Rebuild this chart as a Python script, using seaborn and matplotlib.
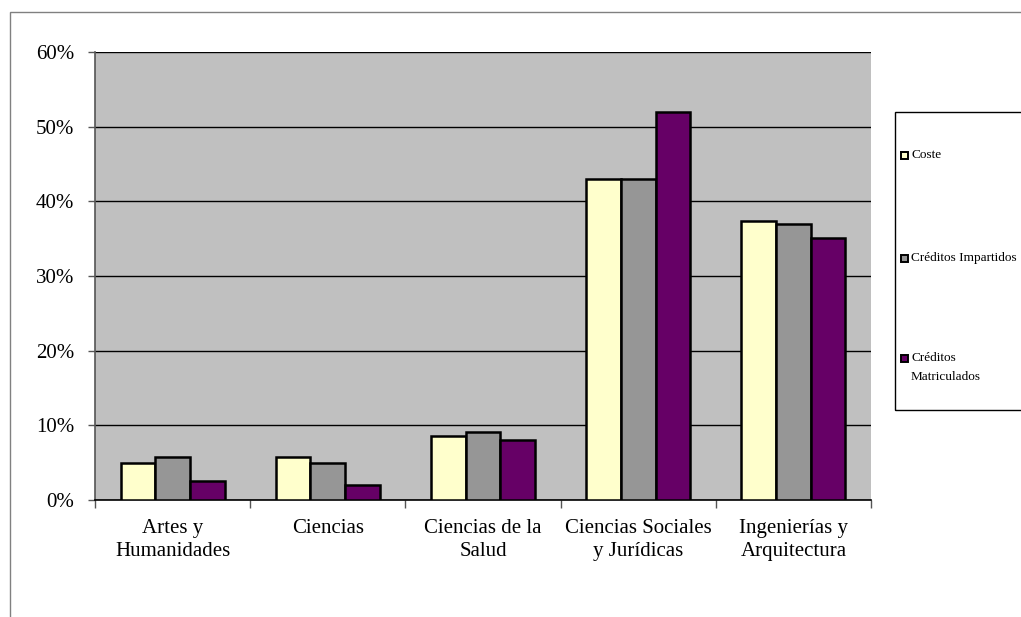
import matplotlib
matplotlib.use("Agg")
import matplotlib.pyplot as plt
from matplotlib.patches import Rectangle
from matplotlib.ticker import FuncFormatter, FixedLocator
import pandas as pd
import seaborn as sns

categories = ["Artes y\nHumanidades", "Ciencias", "Ciencias de la\nSalud",
              "Ciencias Sociales\ny Jurídicas", "Ingenierías y\nArquitectura"]
series = ["Coste", "Créditos Impartidos", "Créditos\nMatriculados"]
coste = [5.0, 5.7, 8.6, 43.0, 37.3]
creditos_impartidos = [5.7, 4.9, 9.1, 43.0, 36.9]
creditos_matriculados = [2.5, 2.0, 8.1, 52.0, 35.1]
y_ticks = [0, 10, 20, 30, 40, 50, 60]
colors = ["#FFFFCC", "#969696", "#660066"]

df = pd.DataFrame({
    "categoria": categories * 3,
    "serie": [series[0]] * 5 + [series[1]] * 5 + [series[2]] * 5,
    "valor": coste + creditos_impartidos + creditos_matriculados,
})

sns.set_theme(style="white")
plt.rcParams["font.family"] = ["Liberation Serif", "DejaVu Serif"]

W, H = 1021, 617
fig = plt.figure(figsize=(W / 100, H / 100), dpi=100)
ax = fig.add_axes([95 / W, 1 - 500 / H, 776 / W, 448 / H])

sns.barplot(data=df, x="categoria", y="valor", hue="serie", order=categories,
            hue_order=series, palette=colors, saturation=1, width=0.67, gap=0,
            edgecolor="black", linewidth=1.8, ax=ax, legend=False, zorder=3)

ax.set_facecolor("#C0C0C0")
ax.set_ylim(0, 60)
ax.set_xlim(-0.5, 4.5)
ax.yaxis.set_major_locator(FixedLocator(y_ticks))
ax.yaxis.set_major_formatter(FuncFormatter(lambda v, p: f"{v:.0f}%"))
ax.grid(axis="y", color="black", linewidth=1.0, zorder=1)
ax.set_axisbelow(True)
ax.set_xlabel("")
ax.set_ylabel("")

for side in ["top", "right"]:
    ax.spines[side].set_visible(False)
ax.spines["left"].set_color("#555555")
ax.spines["left"].set_linewidth(1.2)
ax.spines["bottom"].set_color("black")
ax.spines["bottom"].set_linewidth(1.2)

ax.tick_params(axis="y", which="major", length=5, width=1, color="#555555",
               direction="out", left=True, pad=10, labelsize=15, labelcolor="black")
ax.tick_params(axis="x", which="major", length=0, pad=14, labelsize=15,
               labelcolor="black")
ax.set_xticks([-0.5, 0.5, 1.5, 2.5, 3.5, 4.5], minor=True)
ax.tick_params(axis="x", which="minor", length=6, width=1, color="#555555",
               direction="out", bottom=True)
for lbl in ax.get_xticklabels():
    lbl.set_linespacing(1.25)

# outer chart frame
fig.patches.append(Rectangle((10 / W, -0.1), 1.2, 1 - 12 / H + 0.1,
                             transform=fig.transFigure, fill=False,
                             edgecolor="#808080", linewidth=1.0))

# legend: frame, colour keys and labels
fig.patches.append(Rectangle((895 / W, 1 - 410 / H), 0.2, 298 / H,
                             transform=fig.transFigure, fill=False,
                             edgecolor="black", linewidth=1.0))
legend_rows = [155, 258, 358]
key = 7
for color, label, row in zip(colors, series, legend_rows):
    fig.patches.append(Rectangle((901 / W, 1 - (row + key / 2) / H), key / W, key / H,
                                 transform=fig.transFigure, facecolor=color,
                                 edgecolor="black", linewidth=1.4))
    for i, line in enumerate(label.split("\n")):
        fig.text(911 / W, 1 - (row + 19 * i) / H, line, fontsize=9.5,
                 color="black", ha="left", va="center")

fig.savefig("out.png", dpi=100)
